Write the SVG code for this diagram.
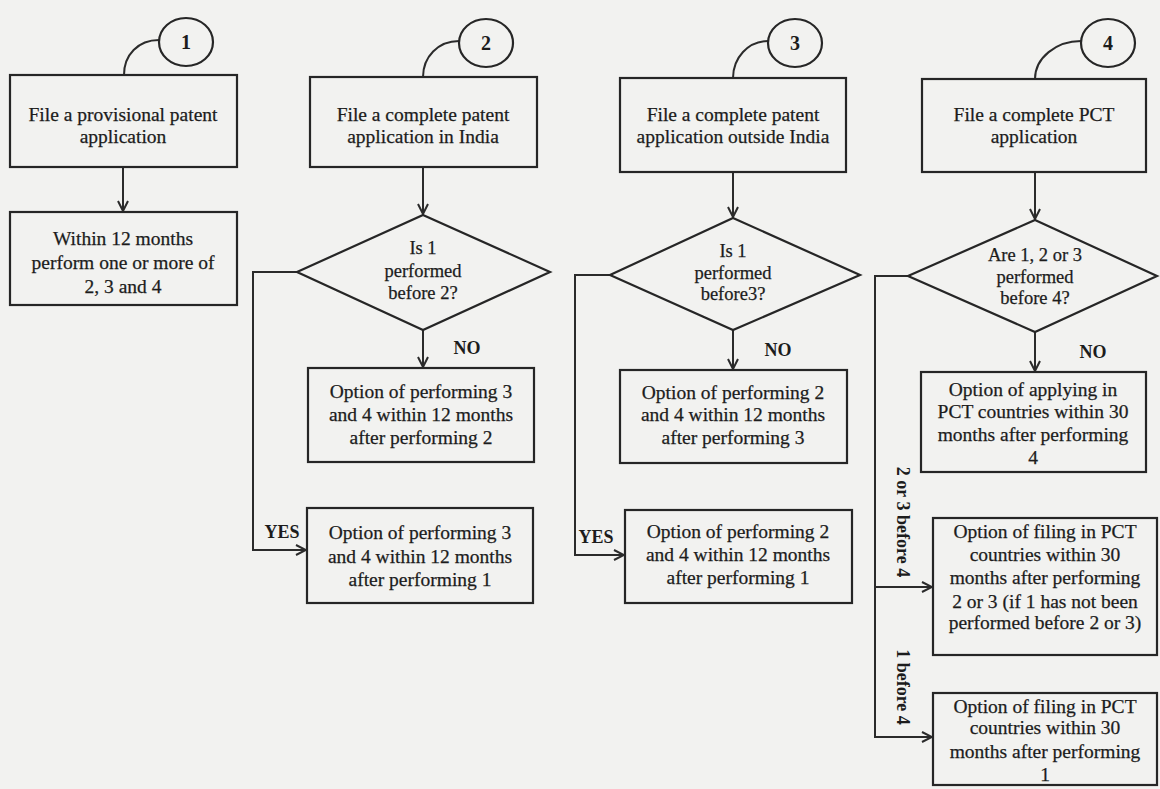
<svg xmlns="http://www.w3.org/2000/svg" width="1160" height="789" viewBox="0 0 1160 789">
<defs>
<style>
.bg{fill:#f2f2f0}
.box{fill:none;stroke:#262626;stroke-width:2.2}
.ln{fill:none;stroke:#2b2b2b;stroke-width:2}
.t{font-family:"Liberation Serif","Times New Roman",serif;font-size:19.5px;fill:#1c1c1c;stroke:#1c1c1c;stroke-width:0.25;text-anchor:middle}
.d{font-family:"Liberation Serif","Times New Roman",serif;font-size:18.5px;fill:#1c1c1c;stroke:#1c1c1c;stroke-width:0.25;text-anchor:middle}
.b{font-family:"Liberation Serif","Times New Roman",serif;font-size:18px;font-weight:bold;fill:#1c1c1c;text-anchor:middle}
.n{font-family:"Liberation Serif","Times New Roman",serif;font-size:20px;font-weight:bold;fill:#1c1c1c;text-anchor:middle}
</style>
<marker id="arr" viewBox="0 0 12 12" refX="11" refY="6" markerWidth="12" markerHeight="12" markerUnits="userSpaceOnUse" orient="auto">
<path d="M1,1 L11,6 L1,11" fill="none" stroke="#2b2b2b" stroke-width="2"/>
</marker>
</defs>
<rect class="bg" x="0" y="0" width="1160" height="789"/>

<g id="connectors">
<path class="ln" d="M123,167 V211" marker-end="url(#arr)"/>
<path class="ln" d="M423,167 V214" marker-end="url(#arr)"/>
<path class="ln" d="M733,172 V217" marker-end="url(#arr)"/>
<path class="ln" d="M1035,172 V219" marker-end="url(#arr)"/>
<path class="ln" d="M423,330 V367" marker-end="url(#arr)"/>
<path class="ln" d="M733,330 V369" marker-end="url(#arr)"/>
<path class="ln" d="M1035,332 V371" marker-end="url(#arr)"/>
<path class="ln" d="M297,272 H253 V550 H306" marker-end="url(#arr)"/>
<path class="ln" d="M610,275 H575 V555 H624" marker-end="url(#arr)"/>
<path class="ln" d="M908,276 H875 V737 H932" marker-end="url(#arr)"/>
<path class="ln" d="M875,587 H932" marker-end="url(#arr)"/>
<text class="b" x="467" y="354">NO</text>
<text class="b" x="778" y="356">NO</text>
<text class="b" x="1093" y="358">NO</text>
<text class="b" x="282" y="538">YES</text>
<text class="b" x="596" y="543">YES</text>
<text class="b" x="897" y="522" transform="rotate(90 897 522)">2 or 3 before 4</text>
<text class="b" x="897" y="687" transform="rotate(90 897 687)">1 before 4</text>
</g>

<g id="marker1">
<path class="ln" d="M124,75 C124,55 138,40 159,40"/>
<ellipse class="box" cx="186" cy="42" rx="27" ry="24"/>
<text class="n" x="186" y="49">1</text>
</g>
<g id="marker2">
<path class="ln" d="M423,77 C423,57 438,41 459,41"/>
<ellipse class="box" cx="486" cy="43" rx="27" ry="24"/>
<text class="n" x="486" y="50">2</text>
</g>
<g id="marker3">
<path class="ln" d="M733,78 C733,58 748,41 768,41"/>
<ellipse class="box" cx="795" cy="43" rx="27" ry="24"/>
<text class="n" x="795" y="50">3</text>
</g>
<g id="marker4">
<path class="ln" d="M1035,79 C1035,58 1056,41 1081,41"/>
<ellipse class="box" cx="1108" cy="43" rx="27" ry="24"/>
<text class="n" x="1108" y="50">4</text>
</g>

<g id="box1">
<rect class="box" x="10" y="75" width="227" height="92"/>
<text class="t" x="123" y="121">File a provisional patent</text>
<text class="t" x="123" y="143">application</text>
</g>
<g id="box1b">
<rect class="box" x="10" y="212" width="227" height="93"/>
<text class="t" x="123" y="245">Within 12 months</text>
<text class="t" x="123" y="269">perform one or more of</text>
<text class="t" x="123" y="293">2, 3 and 4</text>
</g>

<g id="box2">
<rect class="box" x="310" y="77" width="227" height="90"/>
<text class="t" x="423" y="121">File a complete patent</text>
<text class="t" x="423" y="143">application in India</text>
</g>
<g id="dec2">
<path class="box" d="M423,215 L550,272 L423,330 L297,272 Z"/>
<text class="d" x="423" y="254">Is 1</text>
<text class="d" x="423" y="277">performed</text>
<text class="d" x="423" y="299">before 2?</text>
</g>
<g id="box2a">
<rect class="box" x="308" y="368" width="226" height="94"/>
<text class="t" x="421" y="398">Option of performing 3</text>
<text class="t" x="421" y="421">and 4 within 12 months</text>
<text class="t" x="421" y="444">after performing 2</text>
</g>
<g id="box2b">
<rect class="box" x="307" y="508" width="226" height="95"/>
<text class="t" x="420" y="539">Option of performing 3</text>
<text class="t" x="420" y="563">and 4 within 12 months</text>
<text class="t" x="420" y="586">after performing 1</text>
</g>

<g id="box3">
<rect class="box" x="620" y="78" width="226" height="94"/>
<text class="t" x="733" y="121">File a complete patent</text>
<text class="t" x="733" y="143">application outside India</text>
</g>
<g id="dec3">
<path class="box" d="M733,218 L860,275 L733,330 L610,275 Z"/>
<text class="d" x="733" y="257">Is 1</text>
<text class="d" x="733" y="279">performed</text>
<text class="d" x="733" y="300">before3?</text>
</g>
<g id="box3a">
<rect class="box" x="620" y="370" width="227" height="93"/>
<text class="t" x="733" y="399">Option of performing 2</text>
<text class="t" x="733" y="421">and 4 within 12 months</text>
<text class="t" x="733" y="444">after performing 3</text>
</g>
<g id="box3b">
<rect class="box" x="625" y="510" width="227" height="93"/>
<text class="t" x="738" y="538">Option of performing 2</text>
<text class="t" x="738" y="561">and 4 within 12 months</text>
<text class="t" x="738" y="584">after performing 1</text>
</g>

<g id="box4">
<rect class="box" x="922" y="79" width="224" height="93"/>
<text class="t" x="1034" y="121">File a complete PCT</text>
<text class="t" x="1034" y="143">application</text>
</g>
<g id="dec4">
<path class="box" d="M1035,220 L1157,276 L1035,332 L908,276 Z"/>
<text class="d" x="1035" y="261">Are 1, 2 or 3</text>
<text class="d" x="1035" y="283">performed</text>
<text class="d" x="1035" y="304">before 4?</text>
</g>
<g id="box4a">
<rect class="box" x="921" y="372" width="225" height="100"/>
<text class="t" x="1033" y="396">Option of applying in</text>
<text class="t" x="1033" y="418">PCT countries within 30</text>
<text class="t" x="1033" y="441">months after performing</text>
<text class="t" x="1033" y="464">4</text>
</g>
<g id="box4b">
<rect class="box" x="933" y="518" width="224" height="137"/>
<text class="t" x="1045" y="538">Option of filing in PCT</text>
<text class="t" x="1045" y="561">countries within 30</text>
<text class="t" x="1045" y="584">months after performing</text>
<text class="t" x="1045" y="608">2 or 3 (if 1 has not been</text>
<text class="t" x="1045" y="629">performed before 2 or 3)</text>
</g>
<g id="box4c">
<rect class="box" x="933" y="693" width="224" height="92"/>
<text class="t" x="1045" y="713">Option of filing in PCT</text>
<text class="t" x="1045" y="734">countries within 30</text>
<text class="t" x="1045" y="758">months after performing</text>
<text class="t" x="1045" y="781">1</text>
</g>
</svg>
